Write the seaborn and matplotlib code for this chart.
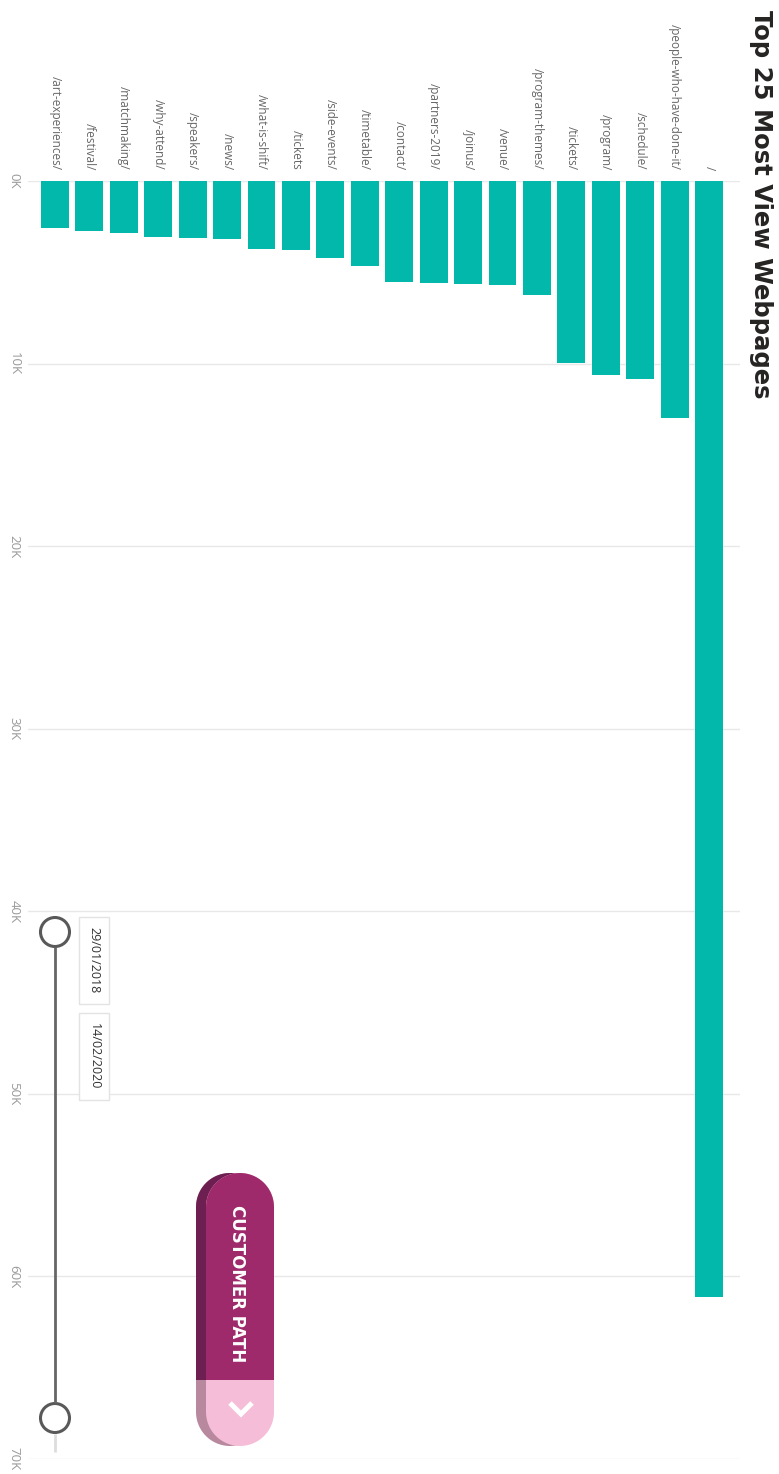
import numpy as np
import matplotlib
matplotlib.use("Agg")
import matplotlib.pyplot as plt
import seaborn as sns
from matplotlib.patches import Circle, Rectangle, Polygon

# --- DATA ---
pages = ["/art-experiences/", "/festival/", "/matchmaking/", "/why-attend/",
         "/speakers/", "/news/", "/what-is-shift/", "/tickets", "/side-events/",
         "/timetable/", "/contact/", "/partners-2019/", "/joinus/", "/venue/",
         "/program-themes/", "/tickets/", "/program/", "/schedule/",
         "/people-who-have-done-it/", "/"]
views = [2560, 2760, 2870, 3080, 3100, 3190, 3720, 3800, 4220, 4670,
         5530, 5600, 5620, 5700, 6260, 9950, 10620, 10840, 13000, 61150]
value_ticks = [0, 10000, 20000, 30000, 40000, 50000, 60000, 70000]
tick_labels = ["0K", "10K", "20K", "30K", "40K", "50K", "60K", "70K"]
title = "Top 25 Most View Webpages"
date_start = "29/01/2018"
date_end = "14/02/2020"
button_text = "CUSTOMER PATH"

# --- SETTINGS ---
W, H, DPI = 779, 1474, 100
BAR_COLOR = "#01B8AA"


def px_box(left, top, right, bottom):
    """Pixel box (origin top-left) -> figure fraction rect."""
    return [left / W, 1 - bottom / H, (right - left) / W, (bottom - top) / H]


def stadium(left, top, width, height, color):
    """Pill shape (two half circles joined) in pixel space."""
    r = width / 2
    cx = left + r
    t1 = np.linspace(0, np.pi, 40)
    t2 = np.linspace(np.pi, 2 * np.pi, 40)
    xs = np.concatenate([cx + r * np.cos(t1), cx + r * np.cos(t2)])
    ys = np.concatenate([top + r - r * np.sin(t1), top + height - r - r * np.sin(t2)])
    return Polygon(np.column_stack([xs, ys]), closed=True, fc=color, ec="none")


sns.set_theme(style="white")
plt.rcParams["font.family"] = ["Open Sans", "DejaVu Sans"]

fig = plt.figure(figsize=(W / DPI, H / DPI), dpi=DPI)
fig.patch.set_facecolor("white")

# --- 1. Bar chart (drawn the way the picture shows it: turned on its side) ---
ax = fig.add_axes(px_box(28, 181, 740, 1459))
sns.barplot(x=pages, y=views, color=BAR_COLOR, saturation=1, width=0.81,
            errorbar=None, linewidth=0, ax=ax)
ax.set_xlim(-0.784, 19.9)
ax.set_ylim(70000, 0)

ax.xaxis.tick_top()
ax.set_xticks(range(len(pages)))
ax.set_xticklabels(pages, rotation=-90, ha="center", va="bottom",
                   color="#666666", fontsize=8.5)
ax.tick_params(axis="x", length=0, pad=8)

ax.set_yticks(value_ticks)
ax.set_yticklabels(tick_labels, rotation=-90, ha="center", va="center",
                   color="#9a9a9a", fontsize=9.5)
ax.tick_params(axis="y", length=0, pad=10)
ax.set_xlabel("")
ax.set_ylabel("")

ax.grid(axis="y", color="#e8e8e8", lw=1)
ax.grid(axis="x", visible=False)
ax.set_axisbelow(True)
sns.despine(ax=ax, left=True, bottom=True, top=True, right=True)

# --- 2. Decorations (title, date slider, button) in pixel space ---
deco = fig.add_axes([0, 0, 1, 1])
deco.set_xlim(0, W)
deco.set_ylim(H, 0)
deco.axis("off")
deco.patch.set_alpha(0)

deco.text(761, 10, title, rotation=-90, ha="center", va="top",
          fontsize=17.5, fontweight="bold", color="#252423", family="DejaVu Sans")

# date slider
deco.plot([55, 55], [947, 1403], color="#666666", lw=2, solid_capstyle="butt")
deco.plot([55, 55], [1434, 1452], color="#dddddd", lw=2, solid_capstyle="butt")
for cy in (932, 1418):
    deco.add_patch(Circle((55, cy), 14.5, fc="white", ec="#595959", lw=2.2))

for top, label in ((917, date_start), (1013, date_end)):
    deco.add_patch(Rectangle((79, top), 30, 87, fc="white", ec="#e3e3e3", lw=1))
    deco.text(94, top + 43.5, label, rotation=-90, ha="center", va="center",
              fontsize=9, color="#333333")

# customer path button (3D look: darker copy behind, shifted left)
back = stadium(196, 1173, 68, 273, "#b8889f")
deco.add_patch(back)
back_top = Rectangle((190, 1165), 90, 215, fc="#6e1f52", ec="none")
deco.add_patch(back_top)
back_top.set_clip_path(back)

front = stadium(206, 1173, 68, 273, "#f5bdd8")
deco.add_patch(front)
front_top = Rectangle((200, 1165), 80, 215, fc="#9e2a6b", ec="none")
deco.add_patch(front_top)
front_top.set_clip_path(front)

deco.text(237, 1283.5, button_text, rotation=-90, ha="center", va="center",
          fontsize=12, fontweight="bold", color="white", family="DejaVu Sans")
deco.plot([230, 241, 252], [1403, 1414, 1403], color="white", lw=3.6,
          solid_capstyle="butt", solid_joinstyle="miter")

plt.savefig("out.png", dpi=DPI)
